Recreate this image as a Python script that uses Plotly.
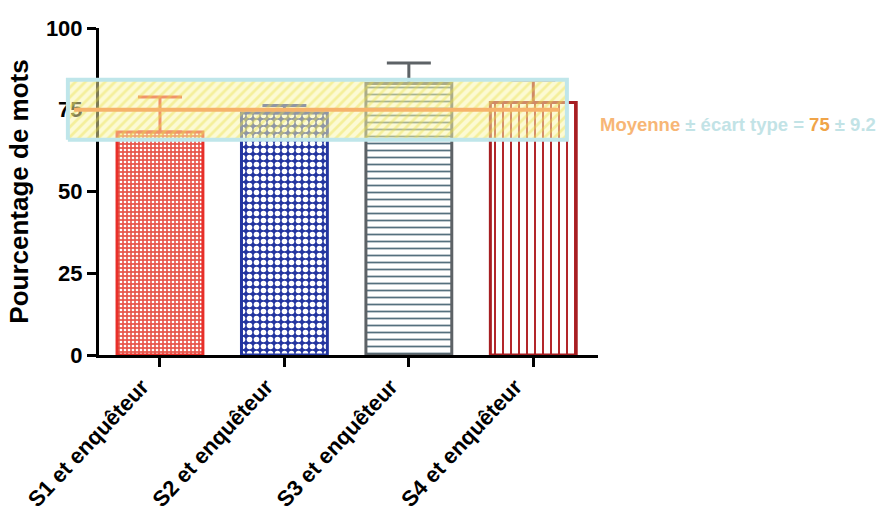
import plotly.graph_objects as go

categories = ["S1 et enquêteur", "S2 et enquêteur", "S3 et enquêteur", "S4 et enquêteur"]
values = [68.2, 74.0, 83.0, 77.2]
errors = [10.7, 2.3, 6.3, 6.8]
mean_value = 75
sd_value = 9.2
y_ticks = [0, 25, 50, 75, 100]

line_colors = ["#e8302a", "#2436a0", "#5d6266", "#a61e22"]
fill_colors = ["#e8574c", "#2436a0", "white", "white"]
pattern_colors = ["white", "white", "#55707e", "#b3262a"]
pattern_shapes = [".", ".", "-", "|"]
pattern_sizes = [4, 7, 7, 8]
pattern_solid = [0.35, 0.5, 0.25, 0.25]

FONT = "Liberation Sans, Arial, sans-serif"

fig = go.Figure()
for i, cat in enumerate(categories):
    fig.add_trace(go.Bar(
        x=[i], y=[values[i]], width=0.69,
        marker=dict(color=fill_colors[i],
                    line=dict(color=line_colors[i], width=3),
                    pattern=dict(shape=pattern_shapes[i], fgcolor=pattern_colors[i],
                                 bgcolor=fill_colors[i], size=pattern_sizes[i],
                                 solidity=pattern_solid[i], fillmode="replace")),
        error_y=dict(type="data", array=[errors[i]], arrayminus=[0], symmetric=False,
                     color=line_colors[i], thickness=3, width=22),
        showlegend=False, hoverinfo="skip",
    ))

# mean +/- sd band on an overlay subplot (extends left of the y axis)
x_main = [-0.49, 3.52]
px_per_unit = 499 / (x_main[1] - x_main[0])
x2_range = [x_main[0] - 39 / px_per_unit, x_main[1]]
band_x = [-0.74, 3.27]
lo, hi = mean_value - sd_value, mean_value + sd_value
fig.add_trace(go.Scatter(
    x=[band_x[0], band_x[1], band_x[1], band_x[0], band_x[0]],
    y=[lo, lo, hi, hi, lo],
    xaxis="x2", yaxis="y2", mode="lines", fill="toself",
    line=dict(color="#bfe6ea", width=4),
    fillcolor="rgba(250,246,170,0.5)",
    fillpattern=dict(shape="/", fgcolor="rgba(232,222,70,0.8)",
                     bgcolor="rgba(250,246,170,0.5)", size=7, solidity=0.4),
    showlegend=False, hoverinfo="skip",
))
fig.add_trace(go.Scatter(
    x=[band_x[0] + 0.05, band_x[1] - 0.06], y=[mean_value, mean_value],
    xaxis="x2", yaxis="y2", mode="lines",
    line=dict(color="#f6b36b", width=4),
    showlegend=False, hoverinfo="skip",
))

fig.add_annotation(
    xref="paper", yref="y", x=1, y=70.5, xanchor="left", yanchor="middle",
    showarrow=False,
    text=("<span style='color:#f7b676'>Moyenne</span>"
          "<span style='color:#c2e3e6'> ± écart type = </span>"
          f"<span style='color:#f0a448'>{mean_value}</span>"
          f"<span style='color:#c2e3e6'> ± {sd_value}</span>"),
    font=dict(family=FONT, size=18.5, weight="bold"),
)

fig.update_layout(
    width=880, height=524,
    margin=dict(l=60, r=282, t=28, b=169, autoexpand=False),
    plot_bgcolor="rgba(0,0,0,0)", paper_bgcolor="white",
    barmode="overlay",
    xaxis=dict(domain=[39 / 538, 1], range=x_main,
               tickvals=list(range(len(categories))), ticktext=categories,
               tickangle=-47, showline=True, linecolor="black", linewidth=3,
               ticks="outside", ticklen=9, tickwidth=3, tickcolor="black",
               ticklabelstandoff=-2, ticklabelshift=-18,
               showgrid=False, zeroline=False,
               tickfont=dict(family=FONT, size=22, color="black", weight="bold")),
    yaxis=dict(range=[0, 100], tickvals=y_ticks, showline=True, linecolor="black",
               linewidth=3, ticks="outside", ticklen=9, tickwidth=3, tickcolor="black",
               showgrid=False, zeroline=False,
               tickfont=dict(family=FONT, size=22, color="black", weight="bold"),
               title=dict(text="Pourcentage de mots", standoff=10,
                          font=dict(family=FONT, size=26, color="black", weight="bold"))),
    xaxis2=dict(domain=[0, 1], range=x2_range, anchor="y2", visible=False),
    yaxis2=dict(domain=[0, 1], range=[0, 100], anchor="x2", visible=False),
)

fig.write_html("out.html", config={"displayModeBar": False},
               post_script="document.body.style.margin='0';document.body.style.overflow='hidden';")
